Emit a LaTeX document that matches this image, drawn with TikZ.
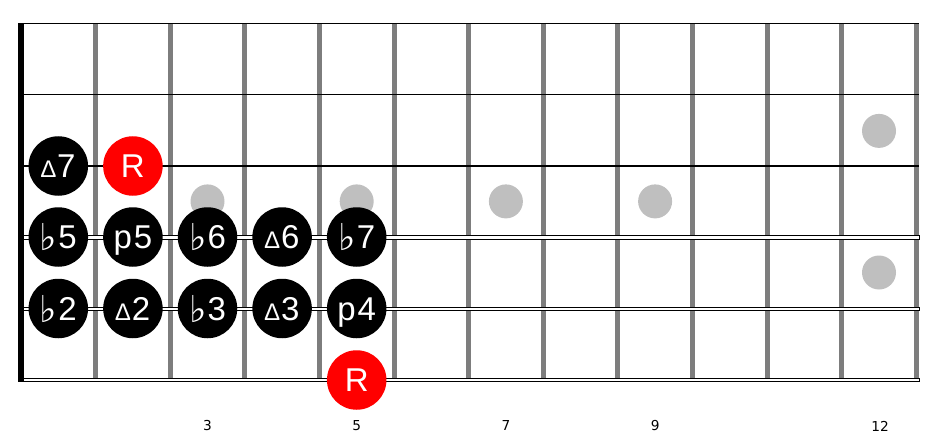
\documentclass[tikz,border=0pt]{standalone}
\usepackage{fontspec}
\setmainfont{Liberation Sans}
\newfontfamily\numfont{DejaVu Sans}
\newfontfamily\symfont{DejaVu Sans}
\newcommand{\fl}{\raisebox{-2pt}{\symfont\fontsize{37}{37}\selectfont ♭}\kern1pt}
\newcommand{\mj}{{\fontsize{24}{24}\selectfont ∆}\kern1.5pt}
\newcommand{\pp}{p\kern2pt}
\begin{document}
\begin{tikzpicture}[x=1pt,y=1pt,
  fretline/.style={draw=gray!98!black,line width=5pt},
  plainstring/.style={draw=black,line width=1.1pt},
  woundstring/.style={draw=black,fill=white,line width=0.8pt},
  notedot/.style={circle,fill=black,minimum size=59.5pt,inner sep=0pt,text=white,
    font=\fontsize{33}{33}\selectfont,text height=23.6pt,text depth=0pt},
  rootdot/.style={notedot,fill=red},
  inlay/.style={circle,fill=black!25,minimum size=34pt,inner sep=0pt},
  fretnum/.style={font=\numfont\fontsize{13.7}{13.7}\selectfont,text=black}
]
\useasboundingbox (0,0) rectangle (933,445);
% frets
\foreach \k in {1,...,12}{
  \draw[fretline] ({21+74.6*\k},{445-23.3}) -- ({21+74.6*\k},{445-380});
}
% strings
\foreach \i in {1,2,3}{
  \draw[plainstring] (18,{445-23.3-71.35*(\i-1)}) -- (919,{445-23.3-71.35*(\i-1)});
}
\foreach \i in {4,5,6}{
  \draw[woundstring] (18,{445-23.3-71.35*(\i-1)-1.8}) rectangle (919,{445-23.3-71.35*(\i-1)+1.8});
}
% nut
\fill[black] (18,{445-381.5}) rectangle (24,{445-23.3});
% inlays
\node[inlay] (in3) at (207.5,{445-201.4}) {};
\node[inlay] (in5) at (356.7,{445-201.4}) {};
\node[inlay] (in7) at (505.9,{445-201.4}) {};
\node[inlay] (in9) at (655.1,{445-201.4}) {};
\node[inlay] (in12a) at (879,{445-130.9}) {};
\node[inlay] (in12b) at (879,{445-272.5}) {};
% notes string 3
\node[notedot] (s3f1) at (58.3,{445-166}) {\mj7};
\node[rootdot] (s3f2) at (132.9,{445-166}) {R};
% string 4
\node[notedot] (s4f1) at (58.3,{445-237}) {\fl5};
\node[notedot] (s4f2) at (132.9,{445-237}) {\pp5};
\node[notedot] (s4f3) at (207.5,{445-237}) {\fl6};
\node[notedot] (s4f4) at (282.1,{445-237}) {\mj6};
\node[notedot] (s4f5) at (356.7,{445-237}) {\fl7};
% string 5
\node[notedot] (s5f1) at (58.3,{445-308.5}) {\fl2};
\node[notedot] (s5f2) at (132.9,{445-308.5}) {\mj2};
\node[notedot] (s5f3) at (207.5,{445-308.5}) {\fl3};
\node[notedot] (s5f4) at (282.1,{445-308.5}) {\mj3};
\node[notedot] (s5f5) at (356.7,{445-308.5}) {\pp4};
% string 6
\node[rootdot] (s6f5) at (356.7,{445-380}) {R};
% fret numbers
\node[fretnum] (n3) at (207.5,{445-426}) {3};
\node[fretnum] (n5) at (356.7,{445-426}) {5};
\node[fretnum] (n7) at (505.9,{445-426}) {7};
\node[fretnum] (n9) at (655.1,{445-426}) {9};
\node[fretnum] (n12) at (880,{445-426}) {12};
\end{tikzpicture}
\end{document}
